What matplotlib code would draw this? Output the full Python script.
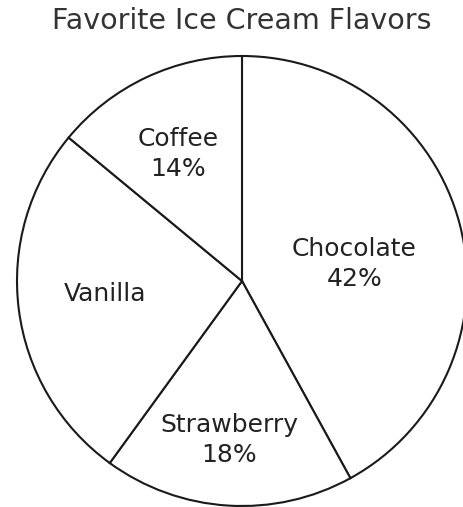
import matplotlib.pyplot as plt

flavors = ["Chocolate", "Strawberry", "Vanilla", "Coffee"]
shares = [42, 18, 26, 14]
shown = [True, True, False, True]   # Vanilla's percent is left off
# label anchors, in units of the pie radius from its centre
label_dx = [0.50, -0.056, -0.61, -0.284]
label_dy = [0.076, -0.707, -0.058, 0.564]

W, H = 463, 507
fig = plt.figure(figsize=(W / 100, H / 100), dpi=100)
ax = fig.add_axes([0, 0, 1, 1])
ax.axis("off")

cx, cy, R = 242, H - 281, 225
wedges, _ = ax.pie(shares, startangle=90, counterclock=False, center=(cx, cy), radius=R,
                   colors=["white"] * 4,
                   wedgeprops=dict(edgecolor="#1a1a1a", linewidth=1.5))
ax.set_xlim(0, W)
ax.set_ylim(0, H)
ax.set_aspect("equal")

for name, val, show, dx, dy in zip(flavors, shares, shown, label_dx, label_dy):
    txt = f"{name}\n{val}%" if show else name
    ax.text(cx + dx * R, cy + dy * R, txt, ha="center", va="center", fontsize=18,
            color="#222222", linespacing=1.3)

ax.text(242, H - 21, "Favorite Ice Cream Flavors", ha="center", va="center",
        fontsize=20.5, color="#333333")

fig.savefig("out.png", dpi=100, facecolor="white")
